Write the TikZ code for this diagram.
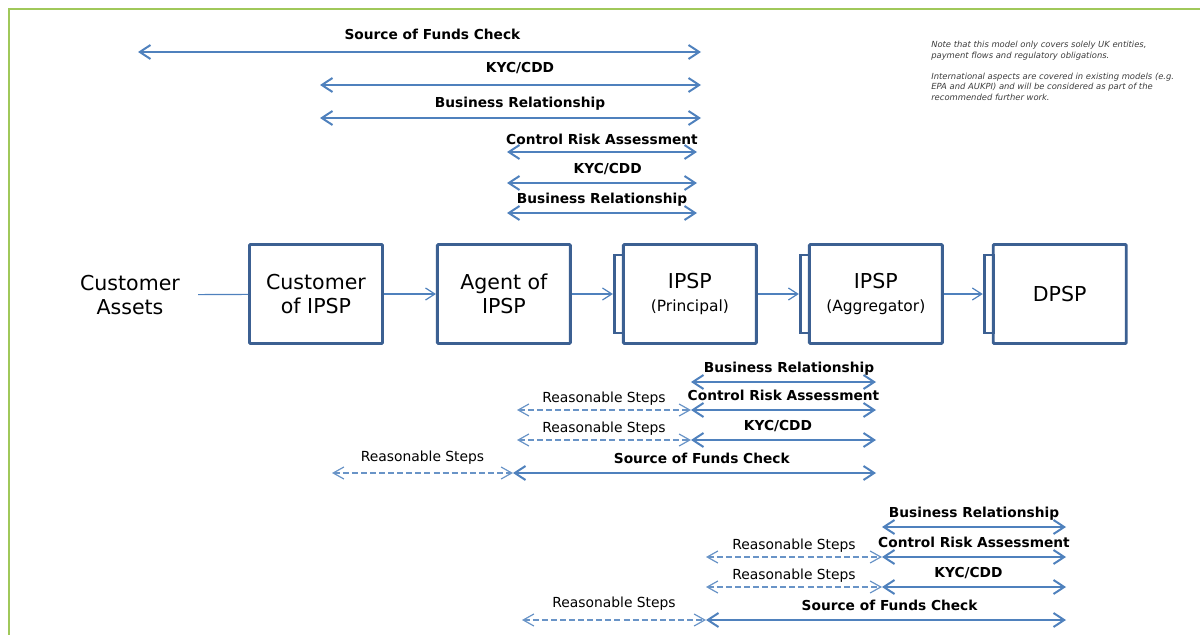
\documentclass[tikz,border=0pt]{standalone}
\usepackage{fontspec}
\setmainfont{DejaVu Sans}
\usepackage{xcolor}
\usepackage{tikz}
\usetikzlibrary{arrows.meta,positioning}

\definecolor{boxblue}{RGB}{60,96,146}
\definecolor{linkblue}{RGB}{79,129,189}
\definecolor{framegreen}{RGB}{160,200,90}
\definecolor{notegray}{RGB}{60,60,60}

\begin{document}
\begin{tikzpicture}[x=0.75pt, y=-0.75pt,
    party/.style={draw=boxblue, line width=2.2pt, fill=white, minimum width=99.75pt,
        minimum height=74.25pt, inner sep=0pt, align=center, rounded corners=0.8pt,
        font=\fontsize{15.4}{18.5}\selectfont},
    back/.style={draw=boxblue, line width=2.2pt, minimum width=6.75pt,
        minimum height=58.5pt, inner sep=0pt, anchor=east},
    flow/.style={draw=linkblue, line width=0.9pt, -{Straight Barb[length=7pt,width=9pt]}},
    span/.style={draw=linkblue, line width=1.5pt,
        {Straight Barb[length=8pt,width=10.5pt]}-{Straight Barb[length=8pt,width=10.5pt]}},
    steps/.style={draw=linkblue!85, line width=0.9pt, dash pattern=on 4.5pt off 2.3pt,
        {Straight Barb[length=8pt,width=9pt]}-{Straight Barb[length=8pt,width=9pt]}},
    check/.style={font=\bfseries\fontsize{10.3}{12}\selectfont, anchor=base, yshift=7.5pt},
    hint/.style={font=\fontsize{10.4}{12}\selectfont, anchor=base, yshift=6pt}
]
\useasboundingbox (0,0) rectangle (1200,635);

% frame
\draw[framegreen, line width=1.8pt] (9,635) -- (9,9) -- (1200,9);

% note
\node[anchor=north west, align=left, inner sep=0pt, text=notegray,
      font=\itshape\fontsize{6.3}{7.9}\selectfont] (note) at (931,41)
  {Note that this model only covers solely UK entities,\\
   payment flows and regulatory obligations.\\[7.9pt]
   International aspects are covered in existing models (e.g.\\
   EPA and AUKPI) and will be considered as part of the\\
   recommended further work.};

% chain of parties
\node[party] (cust) at (316,294) {Customer\\of IPSP};
\node[party, right=39pt of cust] (agent) {Agent of\\IPSP};
\node[party, right=37.5pt of agent] (ipsp) {IPSP\\[-1pt]{\fontsize{11.6}{14}\selectfont(Principal)}};
\node[party, right=37.5pt of ipsp] (aggr) {IPSP\\[-1pt]{\fontsize{11.6}{14}\selectfont(Aggregator)}};
\node[party, right=36pt of aggr] (dpsp) {DPSP};

\node[back] (ipspback) at ([xshift=2.2pt]ipsp.west) {};
\node[back] (aggrback) at ([xshift=2.2pt]aggr.west) {};
\node[back] (dpspback) at ([xshift=2.2pt]dpsp.west) {};

\node[align=center, inner xsep=13.5pt, font=\fontsize{15.4}{18.5}\selectfont] (assets) at (130,295) {Customer\\Assets};

\draw[linkblue, line width=0.9pt] (assets) -- (cust);
\draw[flow] (cust) -- (agent);
\draw[flow] (agent) -- (ipspback);
\draw[flow] (ipsp) -- (aggrback);
\draw[flow] (aggr) -- (dpspback);

% checks by the agent
\draw[span] (138,52) -- (701,52) node[check, pos=0.523, yshift=1.5pt]{Source of Funds Check};
\draw[span] (320,85) -- (701,85) node[check, pos=0.525, yshift=1.5pt]{KYC/CDD};
\draw[span] (320,118) -- (701,118) node[check, pos=0.525]{Business Relationship};
\draw[span] (507,152) -- (697,152) node[check, midway, yshift=-1.5pt]{Control Risk Assessment};
\draw[span] (507,183) -- (697,183) node[check, pos=0.53]{KYC/CDD};
\draw[span] (507,213) -- (697,213) node[check, midway]{Business Relationship};

% checks by the principal
\draw[span] (691,382) -- (876,382) node[check, pos=0.53]{Business Relationship};
\draw[span] (691,410) -- (876,410) node[check, midway]{Control Risk Assessment};
\draw[span] (691,440) -- (876,440) node[check, pos=0.47]{KYC/CDD};
\draw[span] (513,473) -- (876,473) node[check, pos=0.52]{Source of Funds Check};
\draw[steps] (517,410) -- (691,410) node[hint, midway]{Reasonable Steps};
\draw[steps] (517,440) -- (691,440) node[hint, midway]{Reasonable Steps};
\draw[steps] (332,473) -- (513,473) node[hint, midway, yshift=3pt]{Reasonable Steps};

% checks by the aggregator
\draw[span] (882,527) -- (1066,527) node[check, midway]{Business Relationship};
\draw[span] (882,557) -- (1066,557) node[check, midway]{Control Risk Assessment};
\draw[span] (882,587) -- (1066,587) node[check, pos=0.47]{KYC/CDD};
\draw[span] (706,620) -- (1066,620) node[check, pos=0.51]{Source of Funds Check};
\draw[steps] (706,557) -- (882,557) node[hint, midway]{Reasonable Steps};
\draw[steps] (706,587) -- (882,587) node[hint, midway]{Reasonable Steps};
\draw[steps] (522,620) -- (706,620) node[hint, midway, yshift=3.5pt]{Reasonable Steps};
\end{tikzpicture}
\end{document}
